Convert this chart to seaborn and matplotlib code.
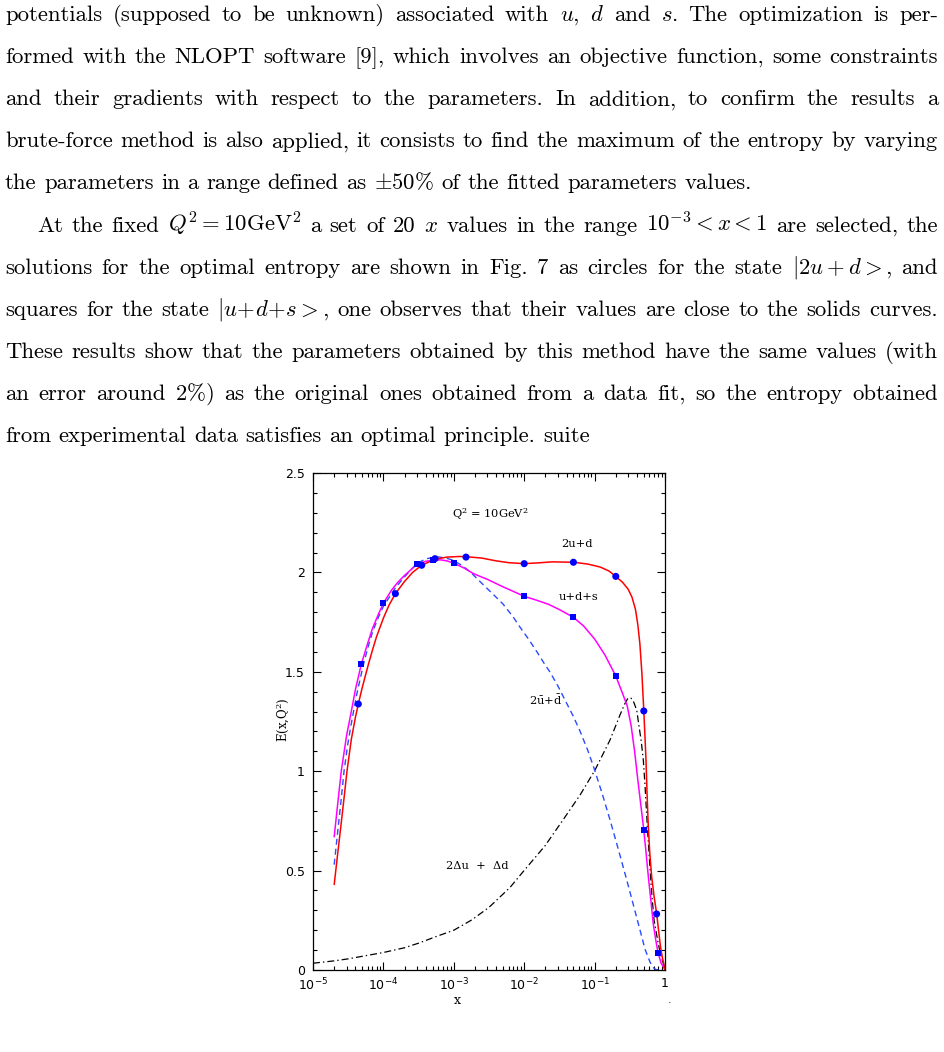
import matplotlib
matplotlib.use("Agg")
import matplotlib.pyplot as plt
import matplotlib.transforms as mtransforms
from matplotlib.ticker import FixedLocator, NullFormatter, MultipleLocator
import pandas as pd
import seaborn as sns

# ---------------- data ----------------
# optimal-entropy solutions: circles |2u+d>, squares |u+d+s>
x_circ = [4.4e-5, 1.48e-4, 3.5e-4, 5.4e-4, 1.49e-3, 1.0e-2, 5.0e-2, 0.2, 0.5, 0.76]
y_circ = [1.338, 1.893, 2.036, 2.069, 2.077, 2.044, 2.051, 1.980, 1.303, 0.282]
x_sq = [4.85e-5, 1.0e-4, 3.0e-4, 5.0e-4, 1.0e-3, 1.0e-2, 5.0e-2, 0.2, 0.5, 0.8]
y_sq = [1.538, 1.845, 2.041, 2.061, 2.046, 1.880, 1.774, 1.479, 0.704, 0.084]

# solid red: 2u+d
x_red = [2e-5, 2.25e-5, 2.5e-5, 2.75e-5, 3.04e-5, 3.5e-5, 4e-5, 4.4e-5, 5e-5, 6e-5,
         7e-5, 8e-5, 1e-4, 1.2e-4, 1.48e-4, 2e-4, 2.6e-4, 3.5e-4, 5.4e-4, 8e-4,
         1.2e-3, 1.5e-3, 2.5e-3, 4e-3, 6e-3, 1e-2, 1.6e-2, 2.5e-2, 5e-2, 8e-2,
         0.12, 0.16, 0.2, 0.25, 0.3, 0.34, 0.38, 0.41, 0.44, 0.47,
         0.5, 0.52, 0.537, 0.557, 0.579, 0.61, 0.647, 0.70, 0.762, 0.81,
         0.863, 0.92, 0.968, 0.99]
y_red = [0.43, 0.59, 0.73, 0.86, 1.00, 1.16, 1.27, 1.338, 1.42, 1.526,
         1.61, 1.677, 1.77, 1.835, 1.893, 1.955, 2.00, 2.036, 2.066, 2.077,
         2.080, 2.079, 2.072, 2.058, 2.049, 2.044, 2.048, 2.053, 2.051, 2.042,
         2.027, 2.007, 1.980, 1.950, 1.915, 1.875, 1.815, 1.74, 1.64, 1.49,
         1.303, 1.17, 1.056, 0.88, 0.721, 0.58, 0.469, 0.37, 0.282, 0.20,
         0.117, 0.06, 0.025, 0.005]

# solid magenta: u+d+s
x_mag = [2e-5, 2.25e-5, 2.52e-5, 3e-5, 3.5e-5, 4e-5, 4.85e-5, 6e-5, 7e-5, 8.5e-5,
         1e-4, 1.3e-4, 1.6e-4, 2e-4, 3e-4, 4e-4, 5e-4, 6.5e-4, 8e-4, 1e-3,
         1.4e-3, 1.87e-3, 3e-3, 4.5e-3, 6e-3, 1e-2, 1.5e-2, 2.2e-2, 3.2e-2, 5e-2,
         7e-2, 0.1, 0.14, 0.2, 0.25, 0.29, 0.33, 0.37, 0.41, 0.45,
         0.5, 0.54, 0.58, 0.63, 0.68, 0.74, 0.8, 0.88, 0.99]
y_mag = [0.67, 0.84, 1.0, 1.18, 1.30, 1.41, 1.538, 1.645, 1.718, 1.79,
         1.845, 1.91, 1.95, 1.985, 2.041, 2.056, 2.061, 2.063, 2.058, 2.046,
         2.022, 1.995, 1.965, 1.935, 1.915, 1.880, 1.860, 1.840, 1.812, 1.774,
         1.73, 1.665, 1.585, 1.479, 1.39, 1.33, 1.23, 1.10, 0.96, 0.84,
         0.704, 0.585, 0.469, 0.35, 0.235, 0.15, 0.084, 0.035, 0.005]

# dashed blue: 2ubar+dbar
x_blue = [2e-5, 2.25e-5, 2.5e-5, 2.76e-5, 3.1e-5, 3.5e-5, 4.2e-5, 5.18e-5, 6e-5, 7e-5,
          8.5e-5, 1e-4, 1.5e-4, 2e-4, 3e-4, 4e-4, 5.7e-4, 7.5e-4, 9.7e-4, 1.3e-3,
          1.7e-3, 2.5e-3, 3.5e-3, 5e-3, 7e-3, 8.7e-3, 1.15e-2, 1.52e-2, 1.9e-2, 2.32e-2,
          3e-2, 3.8e-2, 5e-2, 6.2e-2, 8e-2, 9.8e-2, 0.13, 0.1656, 0.22, 0.286,
          0.36, 0.4415, 0.52, 0.612, 0.68, 0.745, 0.88]
y_blue = [0.53, 0.70, 0.85, 1.00, 1.13, 1.24, 1.39, 1.534, 1.62, 1.70,
          1.775, 1.83, 1.925, 1.978, 2.045, 2.068, 2.079, 2.073, 2.062, 2.035,
          2.004, 1.945, 1.895, 1.841, 1.775, 1.725, 1.665, 1.600, 1.545, 1.499,
          1.43, 1.358, 1.275, 1.202, 1.105, 1.016, 0.88, 0.755, 0.60, 0.453,
          0.32, 0.201, 0.105, 0.040, 0.012, 0.002, 0.0]

# dash-dot black: 2Δu+Δd
x_blk = [1e-5, 2e-5, 3.16e-5, 6e-5, 1e-4, 2e-4, 3.16e-4, 6e-4, 1e-3, 1.8e-3,
         3.16e-3, 6.28e-3, 1.01e-2, 1.97e-2, 3.56e-2, 6.21e-2, 0.1014, 0.1656, 0.2296, 0.265,
         0.298, 0.33, 0.36, 0.396, 0.43, 0.46, 0.492, 0.52, 0.561, 0.6,
         0.647, 0.7, 0.8, 0.88, 0.946, 0.99]
y_blk = [0.034, 0.046, 0.056, 0.074, 0.088, 0.112, 0.135, 0.172, 0.200, 0.252,
         0.315, 0.415, 0.503, 0.624, 0.755, 0.880, 1.006, 1.157, 1.283, 1.335,
         1.368, 1.367, 1.347, 1.308, 1.22, 1.15, 1.056, 0.93, 0.721, 0.56,
         0.386, 0.25, 0.134, 0.07, 0.034, 0.01]

x_ticks = [1e-5, 1e-4, 1e-3, 1e-2, 1e-1, 1.0]
x_tick_labels = [r"$10^{-5}$", r"$10^{-4}$", r"$10^{-3}$", r"$10^{-2}$", r"$10^{-1}$", "1"]
y_ticks = [0, 0.5, 1, 1.5, 2, 2.5]
y_tick_labels = ["0", "0.5", "1", "1.5", "2", "2.5"]

paragraph = [
    (r"potentials (supposed to be unknown) associated with $u$, $d$ and $s$. The optimization is per-", 0, True),
    (r"formed with the NLOPT software [9], which involves an objective function, some constraints", 0, True),
    (r"and their gradients with respect to the parameters.  In addition, to confirm the results a", 0, True),
    (r"brute-force method is also applied, it consists to find the maximum of the entropy by varying", 0, True),
    (r"the parameters in a range defined as $\pm50\%$ of the fitted parameters values.", 0, False),
    (r"At the fixed $Q^2=10\mathrm{GeV}^2$ a set of 20 $x$ values in the range $10^{-3}<x<1$ are selected, the", 32, True),
    (r"solutions for the optimal entropy are shown in Fig. 7 as circles for the state $|2u+d>$, and", 0, True),
    (r"squares for the state $|u\!+\!d\!+\!s>$, one observes that their values are close to the solids curves.", 0, True),
    (r"These results show that the parameters obtained by this method have the same values (with", 0, True),
    (r"an error around $2\%$) as the original ones obtained from a data fit, so the entropy obtained", 0, True),
    (r"from experimental data satisfies an optimal principle. suite", 0, False),
]

# ---------------- style ----------------
sns.set_theme(style="ticks")
plt.rcParams["font.family"] = ["DejaVu Sans"]
plt.rcParams["mathtext.fontset"] = "cm"
plt.rcParams["lines.scale_dashes"] = False
plt.rcParams["axes.unicode_minus"] = False

W, H = 945, 1052
fig = plt.figure(figsize=(W / 100, H / 100), dpi=100)
fig.patch.set_facecolor("white")
renderer = fig.canvas.get_renderer()
ident = mtransforms.IdentityTransform()

# ---------------- justified paragraph text ----------------
FS = 16.35
x_left, x_right = 5, 938
base0, line_step = 21, 42.1
sp1 = fig.text(0, 0, "a a", family="cmr10", fontsize=FS, transform=ident)
sp2 = fig.text(0, 0, "aa", family="cmr10", fontsize=FS, transform=ident)
natural_gap = sp1.get_window_extent(renderer).width - sp2.get_window_extent(renderer).width
sp1.remove(); sp2.remove()
for i, (line, indent, justify) in enumerate(paragraph):
    ybase = H - (base0 + i * line_step)
    words = line.split()
    objs = [fig.text(0, ybase, w, transform=ident, ha="left", va="baseline",
                     family="cmr10", fontsize=FS, color="black") for w in words]
    widths = [o.get_window_extent(renderer).width for o in objs]
    start = x_left + indent
    if justify and len(objs) > 1:
        gap = (x_right - start - sum(widths)) / (len(objs) - 1)
    else:
        gap = natural_gap
    xc = start
    for o, wd in zip(objs, widths):
        o.set_position((xc, ybase))
        xc += wd + gap

# ---------------- chart ----------------
ax = fig.add_axes([313 / W, (H - 970) / H, 352 / W, 497 / H])
ax.set_xscale("log")
ax.set_facecolor("white")

curves = [
    (x_blk, y_blk, "black", 0.9, (5.0, 2.2, 1.0, 2.2)),
    (x_blue, y_blue, "#2a4bff", 1.0, (4.3, 2.9)),
    (x_mag, y_mag, "#ff00ff", 1.1, None),
    (x_red, y_red, "#ff0000", 1.1, None),
]
for xs, ys, col, lw, dash in curves:
    df = pd.DataFrame({"x": xs, "y": ys})
    sns.lineplot(data=df, x="x", y="y", ax=ax, color=col, lw=lw, sort=False,
                 estimator=None, legend=False)
    if dash is not None:
        ax.lines[-1].set_dashes(dash)

df_c = pd.DataFrame({"x": x_circ, "y": y_circ})
df_s = pd.DataFrame({"x": x_sq, "y": y_sq})
sns.scatterplot(data=df_c, x="x", y="y", ax=ax, marker="o", s=26, color="#0000ff",
                edgecolor="none", zorder=5, legend=False)
sns.scatterplot(data=df_s, x="x", y="y", ax=ax, marker="s", s=19, color="#0000ff",
                edgecolor="none", zorder=5, legend=False)

ax.set_xlim(1e-5, 1.0)
ax.set_ylim(0, 2.5)
ax.set_xlabel("")
ax.set_ylabel("")

ax.xaxis.set_major_locator(FixedLocator(x_ticks))
minors = [m * 10.0 ** e for e in range(-5, 0) for m in range(2, 10)]
ax.xaxis.set_minor_locator(FixedLocator(minors))
ax.xaxis.set_minor_formatter(NullFormatter())
ax.set_xticklabels(x_tick_labels, math_fontfamily="dejavusans")
ax.yaxis.set_major_locator(FixedLocator(y_ticks))
ax.yaxis.set_minor_locator(MultipleLocator(0.1))
ax.set_yticklabels(y_tick_labels)

ax.tick_params(which="both", direction="in", top=True, right=True, colors="black",
               labelsize=9, width=0.8)
ax.tick_params(which="major", length=5.5)
ax.tick_params(which="minor", length=2.8)
ax.tick_params(axis="x", which="major", pad=5)
ax.tick_params(axis="y", which="major", pad=6)
for sp in ax.spines.values():
    sp.set_visible(True)
    sp.set_color("black")
    sp.set_linewidth(0.9)

lab = dict(transform=ax.transAxes, ha="center", va="center", fontsize=8.2,
           family="DejaVu Serif", color="black", math_fontfamily="dejavuserif")
ax.text(0.503, 0.917, r"Q$^2$ = 10GeV$^2$", **lab)
ax.text(0.75, 0.857, "2u+d", **lab)
ax.text(0.755, 0.750, "u+d+s", **lab)
ax.text(0.662, 0.543, r"2$\bar{\rm u}$+$\bar{\rm d}$", **lab)
ax.text(0.466, 0.209, "2Δu  +  Δd", **lab)
ax.text(0.41, -0.062, "x", **{**lab, "fontsize": 9})
ax.text(-0.085, 0.503, r"E(x,Q$^2$)", rotation=90, **{**lab, "fontsize": 8.5})
fig.text(670 / W, 1 - 1000 / H, ".", ha="center", va="center", fontsize=8)

fig.savefig("out.png", dpi=100, facecolor="white")
